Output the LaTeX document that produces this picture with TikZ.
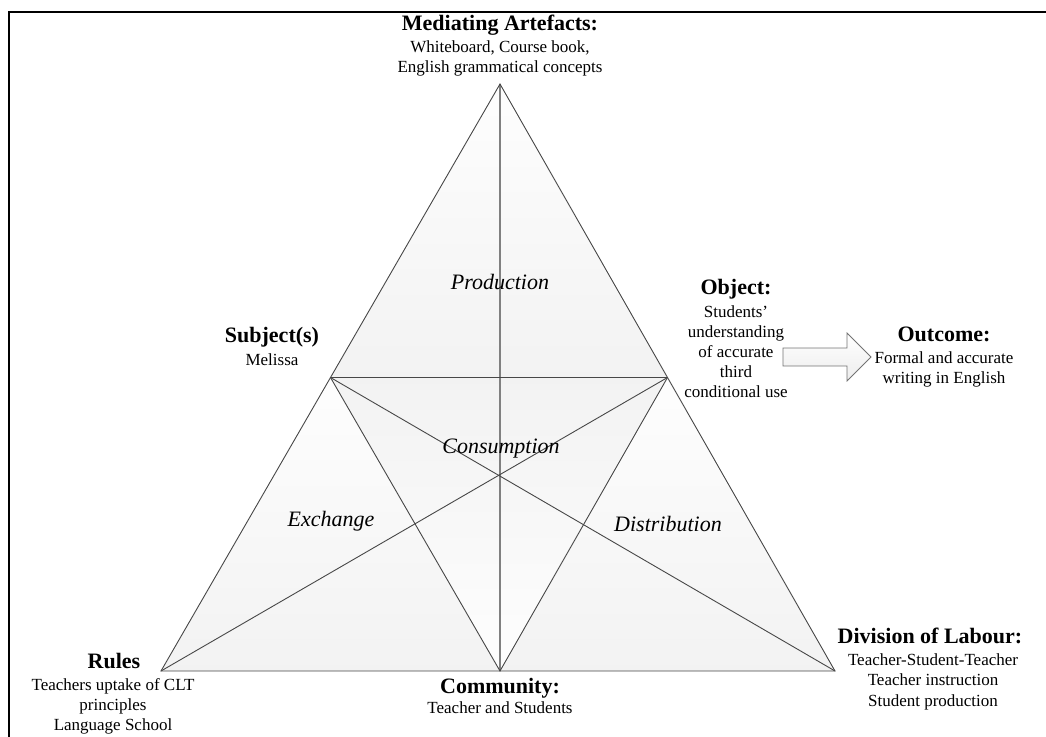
\documentclass[tikz,border=0pt]{standalone}
\usepackage{fontspec}
\setmainfont{Liberation Serif}
\begin{document}
\begin{tikzpicture}[x=1pt,y=-1pt,
  edge/.style={draw=black!72, line width=0.9pt},
  axis/.style={draw=black!50, line width=1.5pt},
  head/.style={font=\bfseries\fontsize{22}{24}\selectfont, anchor=base, inner sep=0pt},
  body/.style={font=\fontsize{17}{20.5}\selectfont, align=center, anchor=north, inner sep=0pt},
  flow/.style={font=\itshape\fontsize{22}{24}\selectfont, anchor=base, inner sep=0pt},
  upper/.style={top color=gray!1, bottom color=gray!10},
  lower/.style={top color=gray!10, bottom color=gray!1}]
\useasboundingbox (0,0) rectangle (1046,736);

% frame
\draw[line width=2pt] (9,12) rectangle (1060,750);

% vertices of the activity triangle
\coordinate (A) at (500,84);
\coordinate (S) at (330.5,377.5);
\coordinate (O) at (667.5,377.5);
\coordinate (R) at (161,671);
\coordinate (C) at (500,671);
\coordinate (D) at (835,671);

% shaded sub-triangles
\shade[upper] (A) -- (S) -- (O) -- cycle;
\shade[upper] (S) -- (R) -- (C) -- cycle;
\shade[upper] (O) -- (C) -- (D) -- cycle;
\shade[lower] (S) -- (O) -- (C) -- cycle;

% inner lines
\draw[axis] (A) -- (C);
\draw[edge] (S) -- (O);
\draw[edge] (S) -- (C) -- (O);
\draw[edge] (S) -- (D);
\draw[edge] (O) -- (R);
% outline
\draw[edge] (A) -- (R) -- (D) -- cycle;

% block arrow from object to outcome
\shade[top color=white, bottom color=gray!14, draw=black!55, line width=0.8pt]
  (783,348) -- (847,348) -- (847,333) -- (871,357) -- (847,381) -- (847,366) -- (783,366) -- cycle;

% node labels
\node[head] (medH) at (500,30) {Mediating Artefacts:};
\node[body] (medB) at (500,40.4) {Whiteboard, Course book,\\English grammatical concepts};

\node[head] (subH) at (272,342) {Subject(s)};
\node[body] (subB) at (272,353.4) {Melissa};

\node[head] (objH) at (736,294) {Object:};
\node[body, font=\fontsize{17}{20}\selectfont] (objB) at (736,305.4) {Students’\\understanding\\of accurate\\third\\conditional use};

\node[head] (outH) at (944,341) {Outcome:};
\node[body, font=\fontsize{17}{20}\selectfont] (outB) at (944,351.4) {Formal and accurate\\writing in English};

\node[head] (rulH) at (114,668) {Rules};
\node[body, font=\fontsize{17}{20}\selectfont] (rulB) at (113,678.4) {Teachers uptake of CLT\\principles\\Language School};

\node[head] (comH) at (500,693) {Community:};
\node[body] (comB) at (500,701.4) {Teacher and Students};

\node[head] (divH) at (930,643) {Division of Labour:};
\node[body, font=\fontsize{17}{20.5}\selectfont] (divB) at (933,653.4) {Teacher-Student-Teacher\\Teacher instruction\\Student production};

% sub-triangle labels
\node[flow] (prod) at (500,289) {Production};
\node[flow] (cons) at (501,453) {Consumption};
\node[flow] (exch) at (331,526) {Exchange};
\node[flow] (dist) at (668,531) {Distribution};
\end{tikzpicture}
\end{document}
